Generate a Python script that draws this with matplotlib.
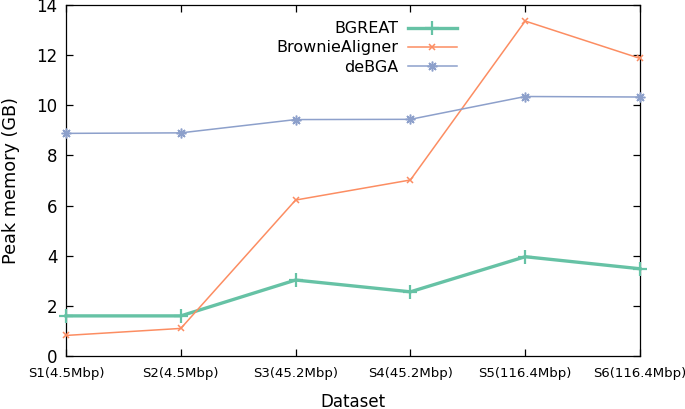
import matplotlib
matplotlib.use("Agg")
import matplotlib.pyplot as plt

categories = ["S1(4.5Mbp)", "S2(4.5Mbp)", "S3(45.2Mbp)", "S4(45.2Mbp)", "S5(116.4Mbp)", "S6(116.4Mbp)"]
bgreat = [1.6, 1.6, 3.03, 2.56, 3.96, 3.48]
brownie = [0.82, 1.1, 6.22, 7.02, 13.36, 11.87]
debga = [8.88, 8.9, 9.43, 9.44, 10.35, 10.33]

plt.rcParams['font.family'] = ['DejaVu Sans']
fig = plt.figure(figsize=(6.85, 4.09), dpi=100)
ax = fig.add_axes([66/685, 53/409, (640-66)/685, (356-5)/409])

x = list(range(len(categories)))
ax.plot(x, bgreat, color='#66c2a5', lw=2.4, marker='+', ms=10, mew=1.6, label='BGREAT', clip_on=False, zorder=3)
ax.plot(x, brownie, color='#fc8d62', lw=1.1, marker='x', ms=5, mew=1.1, label='BrownieAligner', clip_on=False, zorder=3)
ax.plot(x, debga, color='#8da0cb', lw=1.1, marker=(8, 2, 0), ms=7, mew=1.1, label='deBGA', clip_on=False, zorder=3)

ax.set_xlim(0, 5)
ax.set_ylim(0, 14)
ax.set_yticks(range(0, 15, 2))
ax.set_xticks(x)
ax.set_xticklabels(categories, fontsize=9.5)
ax.tick_params(axis='y', labelsize=12)
ax.tick_params(direction='in', length=5, width=0.9, top=True, right=True, pad=6)
ax.tick_params(axis='x', pad=8)
for s in ax.spines.values():
    s.set_linewidth(0.9)

ax.set_ylabel('Peak memory (GB)', fontsize=12.7, labelpad=12)
ax.set_xlabel('Dataset', fontsize=12, labelpad=9)

leg = ax.legend(loc='upper right', bbox_to_anchor=(0.692, 0.972), frameon=False, markerfirst=False,
                fontsize=11.5, handlelength=3.05, labelspacing=0.26, handletextpad=0.6, borderaxespad=0)
for t in leg.get_texts():
    t.set_ha('right')

fig.savefig('out.png', dpi=100)
